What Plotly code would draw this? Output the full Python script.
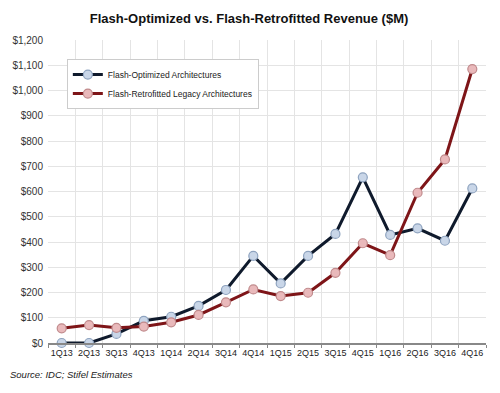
import plotly.graph_objects as go

quarters = ["1Q13", "2Q13", "3Q13", "4Q13", "1Q14", "2Q14", "3Q14", "4Q14",
            "1Q15", "2Q15", "3Q15", "4Q15", "1Q16", "2Q16", "3Q16", "4Q16"]
flash_optimized = [0, 0, 36, 88, 104, 147, 210, 345, 236, 345, 432, 656, 428, 454, 405, 612]
flash_retrofitted = [58, 71, 60, 65, 82, 111, 161, 212, 186, 199, 278, 395, 348, 595, 727, 1085]
y_ticks = list(range(0, 1201, 100))
y_tick_labels = ["$" + format(v, ",d") for v in y_ticks]

fig = go.Figure()
fig.add_trace(go.Scatter(
    x=quarters, y=flash_optimized, name="Flash-Optimized Architectures",
    mode="lines+markers", cliponaxis=False,
    line=dict(color="#0f1a2c", width=3),
    marker=dict(size=9, color="#c9d6e8", line=dict(color="#8ea3bf", width=1.2)),
))
fig.add_trace(go.Scatter(
    x=quarters, y=flash_retrofitted, name="Flash-Retrofitted Legacy Architectures",
    mode="lines+markers", cliponaxis=False,
    line=dict(color="#7e1518", width=3),
    marker=dict(size=9, color="#e9b9bb", line=dict(color="#c08a8c", width=1.2)),
))

fig.update_layout(
    width=492, height=385,
    margin=dict(l=40, r=14, t=32, b=50, autoexpand=False),
    paper_bgcolor="white", plot_bgcolor="white",
    font=dict(family="Liberation Sans, Arial, sans-serif", color="#333333"),
    title=dict(text="<b>Flash-Optimized vs. Flash-Retrofitted Revenue ($M)</b>",
               x=0.49, xanchor="center", xref="container", y=0.974, yanchor="middle",
               font=dict(size=13, color="#111111")),
    showlegend=True,
    legend=dict(x=0.043, y=0.937, xanchor="left", yanchor="top",
                bgcolor="white", bordercolor="#cccccc", borderwidth=1,
                font=dict(size=8.5, color="#222222"),
                itemwidth=30),
    xaxis=dict(type="category", tickson="boundaries", showgrid=True,
               gridcolor="#e4e4e4", gridwidth=1, tickangle=0,
               showline=True, linecolor="#888888", linewidth=1.5,
               ticks="outside", ticklen=3, tickcolor="#888888",
               tickfont=dict(size=9, color="#222222"),
               range=[-0.5, 15.5], automargin=False),
    yaxis=dict(range=[0, 1200], tickvals=y_ticks, ticktext=y_tick_labels,
               showgrid=True, gridcolor="#e4e4e4", gridwidth=1,
               zeroline=False, showline=False, automargin=False,
               ticklabelstandoff=4,
               tickfont=dict(size=10, color="#333333"), ticks=""),
)

fig.add_annotation(text="<i>Source: IDC; Stifel Estimates</i>",
                   xref="paper", yref="paper", x=-0.0913, y=-0.105,
                   xanchor="left", yanchor="middle", showarrow=False,
                   font=dict(size=9.5, color="#222222"))

fig.write_html("out.html")
